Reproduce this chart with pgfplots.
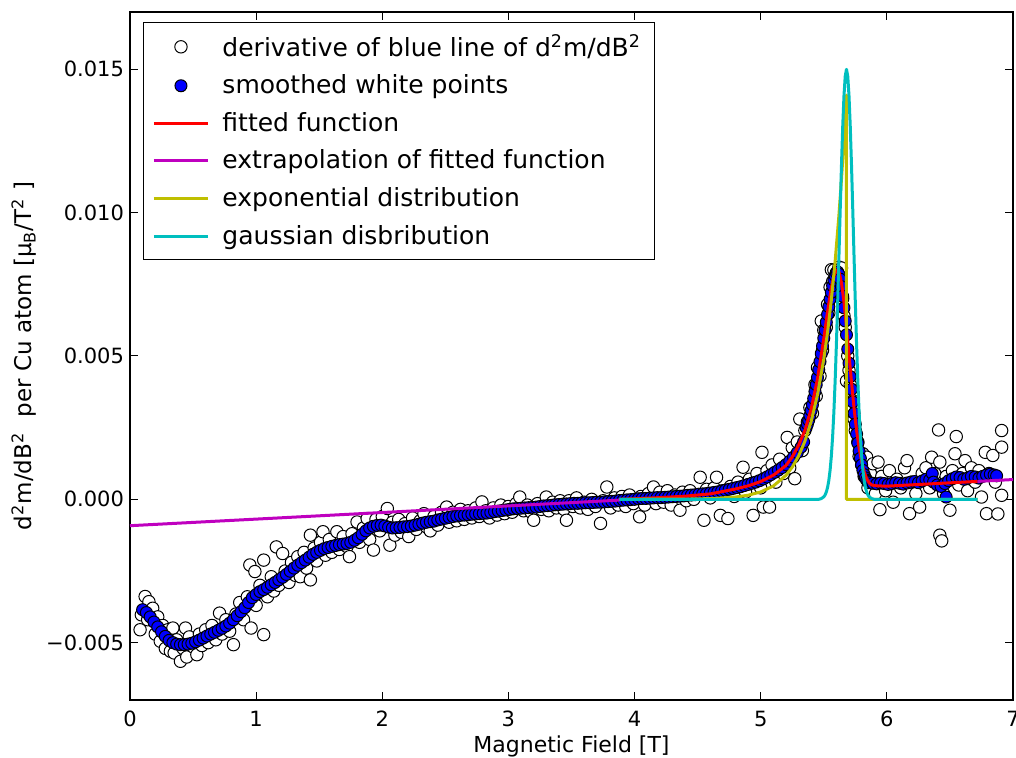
\documentclass[border=0pt]{standalone}
\usepackage{fontspec}
\setmainfont{DejaVu Sans}
\usepackage{pgfplots}
\pgfplotsset{compat=1.18}
\definecolor{mplred}{rgb}{1,0,0}
\definecolor{mplmag}{rgb}{0.75,0,0.75}
\definecolor{mplyel}{rgb}{0.75,0.75,0}
\definecolor{mplcyan}{rgb}{0,0.75,0.75}
\definecolor{mplblue}{rgb}{0,0,1}
\begin{document}
\begin{tikzpicture}
\begin{axis}[
  name=ax,
  scale only axis,
  width=441.5pt, height=344pt,
  xmin=0, xmax=7, ymin=-0.007, ymax=0.017,
  clip marker paths=true,
  xtick={0,1,2,3,4,5,6,7},
  xticklabels={0,1,2,3,4,5,6,7},
  ytick={-0.005,0,0.005,0.01,0.015},
  yticklabels={−0.005,0.000,0.005,0.010,0.015},
  scaled y ticks=false,
  tick align=inside, tick pos=both,
  major tick length=4pt,
  every tick/.style={black, line width=0.5pt},
  axis line style={line width=0.8pt},
  tick label style={font=\fontsize{10.5}{12.5}\selectfont},
  xticklabel style={yshift=-2pt},
  yticklabel style={xshift=0.5pt},
  xlabel={Magnetic Field [T]},
  ylabel={d\textsuperscript{2}m/dB\textsuperscript{2}\enspace\thinspace per Cu atom [μ\textsubscript{B}/T\textsuperscript{2}\ ]},
  every axis x label/.style={at={(axis description cs:0.5,-0.068)}, anchor=center, font=\fontsize{11}{13}\selectfont},
  every axis y label/.style={at={(axis description cs:-0.12,0.5)}, anchor=center, rotate=90, font=\fontsize{11.5}{13.5}\selectfont},
  legend cell align=left,
  legend style={at={(axis description cs:0.0147,0.9855)}, anchor=north west, draw=black, line width=0.5pt,
    font=\fontsize{12.5}{15}\selectfont, row sep=3.8pt, inner xsep=4.5pt, inner ysep=4pt,
    /tikz/every odd column/.append style={column sep=4.5pt}},
  legend image code/.code={\draw[mark repeat=2,mark phase=2,#1] plot coordinates {(0pt,0pt) (13.5pt,0pt) (27pt,0pt)};},
]
% white points
\addplot[only marks, mark=*, mark size=3.1pt, mark options={fill=white, draw=black, line width=0.5pt}] coordinates {
(0.08,-0.00455) (0.09,-0.00403) (0.12,-0.00339) (0.15,-0.00357) (0.14,-0.00420) (0.18,-0.00380) (0.20,-0.00470) (0.22,-0.00410)
(0.24,-0.00495) (0.26,-0.00440) (0.28,-0.00520) (0.30,-0.00455) (0.32,-0.00530) (0.34,-0.00449) (0.35,-0.00536) (0.37,-0.00490)
(0.40,-0.00565) (0.42,-0.00520) (0.44,-0.00449) (0.45,-0.00550) (0.47,-0.00480) (0.50,-0.00515) (0.53,-0.00542) (0.55,-0.00470)
(0.57,-0.00510) (0.60,-0.00455) (0.62,-0.00500) (0.65,-0.00440) (0.68,-0.00490) (0.71,-0.00397) (0.73,-0.00470) (0.76,-0.00420)
(0.79,-0.00460) (0.82,-0.00507) (0.84,-0.00400) (0.87,-0.00360) (0.90,-0.00420) (0.93,-0.00340) (0.95,-0.00229) (0.96,-0.00449)
(0.99,-0.00252) (1.00,-0.00370) (1.03,-0.00300) (1.06,-0.00212) (1.06,-0.00472) (1.09,-0.00340) (1.12,-0.00270) (1.14,-0.00320)
(1.16,-0.00166) (1.18,-0.00300) (1.21,-0.00189) (1.23,-0.00250) (1.26,-0.00290) (1.28,-0.00220) (1.31,-0.00265) (1.33,-0.00200)
(1.35,-0.00270) (1.38,-0.00185) (1.40,-0.00240) (1.43,-0.00281) (1.43,-0.00125) (1.46,-0.00170) (1.48,-0.00215) (1.51,-0.00150)
(1.53,-0.00113) (1.55,-0.00195) (1.58,-0.00140) (1.60,-0.00185) (1.64,-0.00113) (1.66,-0.00175) (1.69,-0.00130) (1.72,-0.00165)
(1.74,-0.00200) (1.76,-0.00120) (1.80,-0.00079) (1.82,-0.00150) (1.85,-0.00100) (1.88,-0.00067) (1.90,-0.00140) (1.93,-0.00177)
(1.95,-0.00070) (1.98,-0.00110) (2.00,-0.00060) (2.04,-0.00032) (2.06,-0.00160) (2.08,-0.00080) (2.10,-0.00125) (2.13,-0.00070)
(2.15,-0.00115) (2.18,-0.00085) (2.21,-0.00130) (2.24,-0.00065) (2.27,-0.00105) (2.30,-0.00075) (2.33,-0.00050) (2.35,-0.00096)
(2.38,-0.00110) (2.41,-0.00060) (2.44,-0.00090) (2.47,-0.00045) (2.51,-0.00027) (2.53,-0.00080) (2.56,-0.00045) (2.59,-0.00075)
(2.62,-0.00035) (2.65,-0.00070) (2.68,-0.00040) (2.71,-0.00065) (2.74,-0.00030) (2.77,-0.00060) (2.79,-0.00009) (2.82,-0.00040)
(2.85,-0.00065) (2.88,-0.00030) (2.91,-0.00055) (2.94,-0.00020) (2.97,-0.00050) (3.00,-0.00025) (3.03,-0.00045) (3.06,-0.00015)
(3.09,0.00008) (3.12,-0.00040) (3.15,-0.00020) (3.18,-0.00045) (3.20,-0.00073) (3.23,-0.00015) (3.26,-0.00035) (3.30,0.00008)
(3.32,-0.00040) (3.35,-0.00010) (3.38,-0.00030) (3.41,-0.00005) (3.44,-0.00035) (3.46,-0.00073) (3.48,-0.00005) (3.51,-0.00025)
(3.54,0.00005) (3.57,-0.00030) (3.60,-0.00010) (3.63,-0.00035) (3.66,0.00000) (3.69,-0.00025) (3.73,-0.00084) (3.75,-0.00005)
(3.78,0.00043) (3.81,-0.00030) (3.84,0.00005) (3.87,-0.00020) (3.90,0.00010) (3.93,-0.00025) (3.96,0.00015) (3.99,-0.00015)
(4.04,-0.00061) (4.05,0.00010) (4.08,-0.00020) (4.11,0.00020) (4.15,0.00043) (4.17,-0.00015) (4.20,0.00025) (4.23,-0.00010)
(4.26,0.00030) (4.29,-0.00020) (4.32,0.00015) (4.36,-0.00038) (4.38,0.00025) (4.41,-0.00005) (4.44,0.00030) (4.47,0.00000)
(4.52,0.00077) (4.55,-0.00073) (4.57,0.00035) (4.60,0.00005) (4.63,0.00040) (4.65,0.00077) (4.68,-0.00056) (4.70,0.00030)
(4.74,-0.00067) (4.76,0.00045) (4.79,0.00010) (4.82,0.00060) (4.86,0.00112) (4.88,0.00025) (4.91,0.00070) (4.94,-0.00056)
(4.97,0.00090) (5.00,0.00040) (5.01,0.00164) (5.02,-0.00027) (5.05,0.00100) (5.07,-0.00027) (5.09,0.00120) (5.12,0.00060)
(5.15,0.00140) (5.18,0.00090) (5.21,0.00216) (5.23,0.00110) (5.25,0.00180) (5.27,0.00072) (5.29,0.00200) (5.31,0.00280)
(5.33,0.00170) (5.35,0.00240) (5.37,0.00270) (5.39,0.00320) (5.41,0.00300) (5.43,0.00400) (5.44,0.00360) (5.45,0.00460)
(5.47,0.00430) (5.48,0.00622) (5.49,0.00520) (5.50,0.00590) (5.52,0.00600) (5.53,0.00680) (5.54,0.00650) (5.55,0.00740)
(5.56,0.00801) (5.57,0.00760) (5.58,0.00800) (5.60,0.00790) (5.61,0.00770) (5.62,0.00810) (5.64,0.00807) (5.65,0.00700)
(5.66,0.00640) (5.67,0.00600) (5.68,0.00413) (5.69,0.00500) (5.70,0.00450) (5.71,0.00400) (5.73,0.00344) (5.74,0.00280)
(5.75,0.00240) (5.77,0.00200) (5.78,0.00150) (5.80,0.00120) (5.81,0.00159) (5.82,0.00080) (5.84,0.00147) (5.85,0.00040)
(5.87,0.00090) (5.89,0.00124) (5.91,0.00020) (5.93,0.00130) (5.945,-0.00036) (5.96,0.00080) (5.99,0.00030) (6.02,0.00100)
(6.05,-0.00010) (6.08,0.00070) (6.11,0.00040) (6.14,0.00110) (6.16,0.00135) (6.18,-0.00050) (6.20,0.00060) (6.23,0.00020)
(6.26,-0.00027) (6.28,0.00090) (6.31,0.00110) (6.34,0.00040) (6.355,0.00147) (6.38,0.00090) (6.41,0.00242) (6.42,0.00130)
(6.42,-0.00125) (6.435,-0.00145) (6.45,0.00020) (6.47,0.00080) (6.50,-0.00038) (6.52,0.00100) (6.54,0.00159) (6.55,0.00219)
(6.57,0.00050) (6.60,0.00090) (6.62,0.00135) (6.64,0.00030) (6.67,0.00110) (6.70,0.00060) (6.73,0.00100) (6.75,0.00008)
(6.78,0.00164) (6.79,-0.00050) (6.81,0.00090) (6.84,0.00153) (6.86,0.00060) (6.88,-0.00051) (6.91,0.00240) (6.91,0.00182)
(6.91,0.00014)
};
\addlegendentry{derivative of blue line of d\textsuperscript{2}m/dB\textsuperscript{2}}
% blue smoothed points
\addplot[only marks, mark=*, mark size=3pt, mark options={fill=mplblue, draw=black, line width=0.5pt}] coordinates {
(0.10,-0.00385) (0.13,-0.00395) (0.16,-0.00410) (0.19,-0.00428) (0.22,-0.00445) (0.25,-0.00462) (0.28,-0.00478) (0.31,-0.00492)
(0.34,-0.00500) (0.37,-0.00505) (0.40,-0.00507) (0.43,-0.00507) (0.46,-0.00505) (0.49,-0.00502) (0.52,-0.00497) (0.55,-0.00491)
(0.58,-0.00484) (0.61,-0.00477) (0.64,-0.00470) (0.67,-0.00464) (0.70,-0.00457) (0.73,-0.00450) (0.76,-0.00442) (0.79,-0.00432)
(0.82,-0.00420) (0.85,-0.00406) (0.88,-0.00392) (0.91,-0.00378) (0.94,-0.00360) (0.97,-0.00343) (1.00,-0.00332) (1.03,-0.00322)
(1.06,-0.00315) (1.09,-0.00307) (1.12,-0.00298) (1.15,-0.00290) (1.18,-0.00281) (1.21,-0.00272) (1.24,-0.00262) (1.27,-0.00251)
(1.30,-0.00240) (1.33,-0.00230) (1.36,-0.00221) (1.39,-0.00212) (1.42,-0.00202) (1.45,-0.00192) (1.48,-0.00185) (1.51,-0.00178)
(1.54,-0.00172) (1.57,-0.00168) (1.60,-0.00164) (1.63,-0.00161) (1.66,-0.00158) (1.69,-0.00156) (1.72,-0.00154) (1.75,-0.00150)
(1.78,-0.00143) (1.81,-0.00134) (1.84,-0.00122) (1.87,-0.00110) (1.90,-0.00100) (1.93,-0.00094) (1.96,-0.00091) (1.99,-0.00090)
(2.02,-0.00093) (2.05,-0.00097) (2.08,-0.00100) (2.11,-0.00099) (2.14,-0.00098) (2.17,-0.00096) (2.20,-0.00095) (2.23,-0.00093)
(2.26,-0.00090) (2.29,-0.00087) (2.32,-0.00083) (2.35,-0.00080) (2.38,-0.00078) (2.41,-0.00076) (2.44,-0.00072) (2.47,-0.00069)
(2.50,-0.00066) (2.53,-0.00063) (2.56,-0.00060) (2.59,-0.00058) (2.62,-0.00056) (2.65,-0.00055) (2.68,-0.00054) (2.71,-0.00052)
(2.74,-0.00051) (2.77,-0.00050) (2.80,-0.00049) (2.83,-0.00048) (2.86,-0.00046) (2.89,-0.00043) (2.92,-0.00041) (2.95,-0.00039)
(2.98,-0.00037) (3.01,-0.00035) (3.04,-0.00033) (3.07,-0.00032) (3.10,-0.00031) (3.13,-0.00030) (3.16,-0.00029) (3.19,-0.00028)
(3.22,-0.00027) (3.25,-0.00025) (3.28,-0.00023) (3.31,-0.00022) (3.34,-0.00021) (3.37,-0.00019) (3.40,-0.00018) (3.43,-0.00017)
(3.46,-0.00016) (3.49,-0.00015) (3.52,-0.00014) (3.55,-0.00014) (3.58,-0.00013) (3.61,-0.00012) (3.64,-0.00012) (3.67,-0.00011)
(3.70,-0.00010) (3.73,-0.00010) (3.76,-0.00009) (3.79,-0.00008) (3.82,-0.00007) (3.85,-0.00006) (3.88,-0.00004) (3.91,-0.00003)
(3.94,-0.00002) (3.97,-0.00001) (4.00,0.00000) (4.03,0.00002) (4.06,0.00003) (4.09,0.00003) (4.12,0.00004) (4.15,0.00005)
(4.18,0.00006) (4.21,0.00006) (4.24,0.00007) (4.27,0.00008) (4.30,0.00009) (4.33,0.00010) (4.36,0.00011) (4.39,0.00012)
(4.42,0.00014) (4.45,0.00015) (4.48,0.00016) (4.51,0.00018) (4.54,0.00019) (4.57,0.00020) (4.60,0.00022) (4.63,0.00024)
(4.66,0.00026) (4.69,0.00029) (4.72,0.00032) (4.75,0.00035) (4.78,0.00038) (4.81,0.00041) (4.84,0.00044) (4.87,0.00048)
(4.90,0.00052) (4.93,0.00056) (4.96,0.00060) (4.99,0.00065) (5.02,0.00071) (5.05,0.00078) (5.08,0.00086) (5.11,0.00094)
(5.14,0.00102) (5.17,0.00111) (5.20,0.00121) (5.23,0.00133) (5.26,0.00147) (5.29,0.00163) (5.32,0.00182) (5.34,0.00200)
(5.36,0.00250) (5.37,0.00262) (5.38,0.00276) (5.39,0.00292) (5.40,0.00310) (5.41,0.00330) (5.42,0.00352) (5.43,0.00376)
(5.44,0.00400) (5.45,0.00425) (5.46,0.00452) (5.47,0.00480) (5.48,0.00508) (5.49,0.00535) (5.50,0.00562) (5.51,0.00590)
(5.52,0.00618) (5.53,0.00645) (5.54,0.00672) (5.55,0.00698) (5.56,0.00722) (5.57,0.00745) (5.58,0.00765) (5.59,0.00780)
(5.60,0.00790) (5.61,0.00793) (5.62,0.00785) (5.63,0.00768) (5.64,0.00742) (5.65,0.00708) (5.66,0.00668) (5.67,0.00622)
(5.68,0.00574) (5.69,0.00524) (5.70,0.00475) (5.71,0.00428) (5.72,0.00384) (5.73,0.00340) (5.74,0.00300) (5.75,0.00262)
(5.76,0.00228) (5.77,0.00196) (5.78,0.00168) (5.79,0.00143) (5.80,0.00120) (5.81,0.00101) (5.82,0.00086) (5.83,0.00075)
(5.84,0.00067) (5.85,0.00062) (5.86,0.00058) (5.89,0.00056) (5.92,0.00054) (5.95,0.00057) (5.98,0.00055) (6.01,0.00052)
(6.04,0.00055) (6.07,0.00058) (6.10,0.00056) (6.13,0.00053) (6.16,0.00057) (6.19,0.00060) (6.22,0.00062) (6.25,0.00058)
(6.28,0.00064) (6.31,0.00070) (6.34,0.00068) (6.36,0.00090) (6.37,0.00060) (6.40,0.00050) (6.43,0.00045) (6.46,0.00055)
(6.47,0.00008) (6.49,0.00065) (6.52,0.00072) (6.55,0.00078) (6.58,0.00076) (6.61,0.00070) (6.64,0.00074) (6.67,0.00080)
(6.70,0.00078) (6.73,0.00074) (6.76,0.00080) (6.79,0.00085) (6.82,0.00088) (6.85,0.00085) (6.87,0.00082)
};
\addlegendentry{smoothed white points}
% fitted function
\addplot[mplred, line width=1.5pt, line join=round] coordinates {
(3.88,0.00000) (4.0,0.00002) (4.2,0.00006) (4.4,0.00011) (4.6,0.00019) (4.8,0.00036) (4.9,0.00047) (5.0,0.00062)
(5.1,0.00084) (5.2,0.00118) (5.25,0.00148) (5.3,0.00188) (5.35,0.00240) (5.4,0.00315) (5.45,0.00420) (5.5,0.00560)
(5.53,0.00655) (5.56,0.00739) (5.58,0.00779) (5.6,0.00799) (5.607,0.00801) (5.62,0.00794) (5.64,0.007555) (5.66,0.006887)
(5.68,0.006016) (5.70,0.005048) (5.72,0.004075) (5.74,0.003177) (5.76,0.002407) (5.78,0.001788) (5.80,0.00132) (5.82,0.00096)
(5.84,0.00072) (5.86,0.00057) (5.88,0.00050) (5.92,0.00047) (6.0,0.00046) (6.2,0.000506) (6.4,0.000552) (6.6,0.000598) (6.72,0.000626)
};
\addlegendentry{fitted function}
% extrapolation
\addplot[mplmag, line width=1.5pt] coordinates {(0,-0.00092) (3.88,-0.0000276)};
\addlegendentry{extrapolation of fitted function}
\addplot[mplmag, line width=1.5pt, forget plot] coordinates {(6.72,0.000626) (7,0.00069)};
% exponential distribution
\addplot[mplyel, line width=1.5pt, line join=round] coordinates {
(3.88,0) (4.4,0.0000076) (4.6,0.0000246) (4.8,0.0000796) (4.9,0.000143) (5.0,0.000258) (5.1,0.000465) (5.2,0.000837)
(5.25,0.001124) (5.3,0.001509) (5.35,0.002024) (5.4,0.002716) (5.45,0.003645) (5.5,0.004891) (5.53,0.005835) (5.56,0.006961)
(5.59,0.008305) (5.62,0.009907) (5.64,0.011143) (5.66,0.012535) (5.68,0.0141) (5.68,0) (6.72,0)
};
\addlegendentry{exponential distribution}
% gaussian
\addplot[mplcyan, line width=1.5pt, line join=round] coordinates {
(3.88,0) (5.46,0) (5.48,0.0000255) (5.50,0.0000857) (5.51,0.000150) (5.52,0.000253) (5.53,0.000415) (5.54,0.000659)
(5.55,0.001014) (5.56,0.001511) (5.57,0.002180) (5.58,0.003046) (5.59,0.004124) (5.60,0.005406) (5.61,0.006867) (5.62,0.008450)
(5.63,0.010070) (5.64,0.011622) (5.65,0.012995) (5.66,0.014073) (5.67,0.014763) (5.68,0.015) (5.69,0.014763) (5.70,0.014073)
(5.71,0.012995) (5.72,0.011622) (5.73,0.010070) (5.74,0.008450) (5.75,0.006867) (5.76,0.005406) (5.77,0.004124) (5.78,0.003046)
(5.79,0.002180) (5.80,0.001511) (5.81,0.001014) (5.82,0.000659) (5.83,0.000415) (5.84,0.000253) (5.85,0.000150) (5.86,0.0000857)
(5.88,0.0000255) (5.90,0) (6.72,0)
};
\addlegendentry{gaussian disbribution}
\end{axis}
\pgfresetboundingbox
\path (-65pt,-29pt) rectangle (443pt,350pt);
\end{tikzpicture}
\end{document}
